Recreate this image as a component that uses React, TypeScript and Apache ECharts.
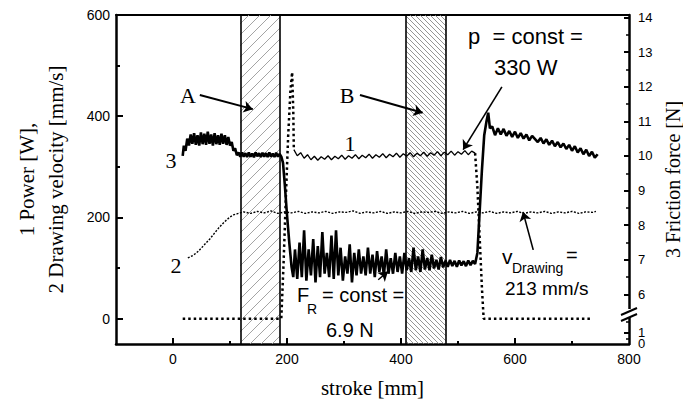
import { useEffect, useRef } from 'react';
import * as echarts from 'echarts';

// ---- axes ----
const X_MIN = -100;
const X_MAX = 800;
const Y_MIN = -50;
const Y_MAX = 600;
const F_MIN = 4.57; // right (friction) axis, upper segment scale
const F_MAX = 14.07;

const xLabels = [0, 200, 400, 600, 800];
const xMajorTicks = [0, 200, 400, 600];
const xMinorTicks = [100, 300, 500, 700];
const yLabels = [0, 200, 400, 600];
const yMinorTicks = [100, 300, 500];
const fLabels = [6, 7, 8, 9, 10, 11, 12, 13, 14];
const fMinorTicks = [6.5, 7.5, 8.5, 9.5, 10.5, 11.5, 12.5, 13.5, 5.2, 4.72];
// lower (broken) segment of the friction axis: axis positions of the "0" and "1" labels
const fZeroPos = 4.58;
const fOnePos = 4.9;

// ---- hatched zones ----
const zoneA = [118, 188];
const zoneB = [409, 479];

// ---- curve 2: drawing velocity [mm/s] ----
const velocity = [
  [26, 120], [30, 122], [35, 125], [40, 129], [45, 134], [50, 140], [55, 146], [60, 152], [65, 158],
  [70, 165], [75, 172], [80, 179], [85, 185], [90, 191], [95, 196], [100, 201], [106, 205], [112, 207],
  [118, 209], [124, 211], [136, 208], [148, 212], [160, 209], [172, 213], [184, 208], [196, 211],
  [208, 209], [220, 212], [232, 208], [244, 211], [256, 209], [268, 212], [280, 208], [292, 211],
  [304, 210], [316, 213], [328, 208], [340, 211], [352, 209], [364, 212], [376, 208], [388, 211],
  [400, 209], [412, 212], [424, 208], [436, 211], [448, 210], [460, 212], [472, 208], [484, 211],
  [496, 209], [508, 212], [520, 208], [532, 211], [544, 209], [556, 212], [568, 208], [580, 211],
  [592, 209], [604, 212], [616, 208], [628, 211], [640, 209], [652, 212], [664, 208], [676, 211],
  [688, 209], [700, 212], [712, 208], [724, 211], [736, 210], [742, 212],
];

// ---- curve 1: power [W] ----
const powerOffStart = [
  [17, 0], [190, 0], [194, 110], [198, 240], [202, 360], [206, 450], [209, 487], [211, 410], [212, 334],
];
const powerOn = [
  [212, 334], [218, 322], [224, 328], [230, 317], [236, 324], [242, 314], [248, 321], [254, 313],
  [260, 320], [266, 315], [272, 322], [278, 314], [284, 321], [290, 316], [296, 323], [302, 315],
  [308, 322], [314, 317], [320, 324], [326, 316], [332, 323], [338, 318], [344, 325], [350, 317],
  [356, 324], [362, 319], [368, 326], [374, 318], [380, 325], [386, 320], [392, 327], [398, 319],
  [404, 326], [410, 321], [416, 328], [422, 320], [428, 327], [434, 322], [440, 329], [446, 321],
  [452, 328], [458, 323], [464, 330], [470, 322], [476, 329], [482, 324], [488, 331], [494, 323],
  [500, 330], [506, 325], [512, 332], [518, 324], [524, 331], [530, 327],
];
const powerOffEnd = [
  [530, 327], [534, 260], [538, 160], [542, 60], [545, 0], [735, 0],
];

// ---- curve 3: friction force [N] ----
const friction = [
  [17, 10.0], [19, 10.3], [22, 10.15], [25, 10.5], [28, 10.3], [31, 10.62], [34, 10.35], [37, 10.66],
  [40, 10.32], [43, 10.6], [46, 10.3], [49, 10.68], [52, 10.34], [55, 10.64], [58, 10.32], [61, 10.7],
  [64, 10.35], [67, 10.62], [70, 10.3], [73, 10.66], [76, 10.34], [79, 10.6], [82, 10.32], [85, 10.64],
  [88, 10.35], [91, 10.6], [94, 10.32], [97, 10.55], [100, 10.3], [103, 10.4], [106, 10.15],
  [109, 10.22], [112, 10.02], [115, 10.1], [118, 9.98], [121, 10.1], [124, 9.98], [127, 10.08],
  [130, 9.97], [133, 10.1], [136, 9.98], [139, 10.07], [142, 9.96], [145, 10.1], [148, 9.99],
  [151, 10.08], [154, 9.97], [157, 10.09], [160, 9.98], [163, 10.08], [166, 9.97], [169, 10.1],
  [172, 9.98], [175, 10.07], [178, 9.97], [181, 10.09], [184, 9.98], [187, 10.06], [190, 9.98],
  [193, 9.8], [196, 9.2], [200, 8.3], [204, 7.5], [208, 6.8], [211, 6.5],
  [214, 7.3], [218, 6.45], [222, 7.5], [226, 6.5], [230, 7.85], [234, 6.4], [238, 7.3], [242, 6.55],
  [246, 7.6], [250, 6.35], [254, 7.4], [258, 6.5], [262, 7.8], [266, 6.6], [270, 7.2], [274, 6.5],
  [278, 7.7], [282, 6.45], [286, 7.85], [290, 6.55], [294, 7.35], [298, 6.4], [302, 7.1], [306, 6.6],
  [310, 7.45], [314, 6.35], [318, 7.2], [322, 6.55], [326, 7.3], [330, 6.6], [334, 7.1], [338, 6.55],
  [342, 7.35], [346, 6.6], [350, 7.15], [354, 6.5], [358, 7.25], [362, 6.65], [366, 7.1], [370, 6.55],
  [374, 7.3], [378, 6.6], [382, 7.05], [386, 6.6], [390, 7.2], [394, 6.65], [398, 7.1], [402, 6.6],
  [406, 7.2], [410, 6.7], [414, 7.05], [418, 6.65], [422, 7.35], [426, 6.7], [430, 7.1], [434, 6.65],
  [438, 7.3], [442, 6.72], [446, 7.05], [450, 6.7], [454, 7.15], [458, 6.75], [462, 7.0], [466, 6.72],
  [470, 7.08], [474, 6.78], [478, 6.98], [482, 6.8], [486, 7.0], [490, 6.82], [494, 6.97], [498, 6.8],
  [502, 6.98], [506, 6.84], [510, 6.96], [514, 6.82], [518, 6.98], [522, 6.85], [526, 6.97], [530, 6.88],
  [534, 7.2], [538, 8.4], [542, 9.6], [546, 10.6], [550, 11.0], [553, 11.25], [556, 10.8],
  [560, 10.85], [565, 10.6], [570, 10.8], [575, 10.62], [580, 10.78], [585, 10.58], [590, 10.72],
  [595, 10.55], [600, 10.7], [605, 10.52], [610, 10.66], [615, 10.5], [620, 10.62], [625, 10.45],
  [630, 10.58], [640, 10.4], [645, 10.52], [650, 10.36], [655, 10.48], [660, 10.32], [665, 10.44],
  [670, 10.28], [675, 10.4], [680, 10.25], [685, 10.36], [690, 10.2], [695, 10.32], [700, 10.15],
  [705, 10.28], [710, 10.1], [715, 10.22], [720, 10.05], [725, 10.18], [730, 10.0], [735, 10.12],
  [740, 9.95], [745, 10.05],
];

// ---- annotation arrows (stroke, left-axis value) ----
const arrowA = [[47, 442], [140, 414]];
const arrowB = [[328, 442], [438, 407]];
const arrowP = [[577, 458], [509, 334]];
const arrowV = [[632, 136], [614, 211]];
const arrowF = [[360, 77], [377, 93]];

const SANS = "'Liberation Sans', Arial, sans-serif";
const SERIF = "'Liberation Serif', 'Times New Roman', serif";

function hatch(forward: boolean, size: number, color: string, width: number) {
  const c = document.createElement('canvas');
  c.width = size;
  c.height = size;
  const ctx = c.getContext('2d')!;
  ctx.strokeStyle = color;
  ctx.lineWidth = width;
  ctx.beginPath();
  if (forward) {
    ctx.moveTo(0, size); ctx.lineTo(size, 0);
    ctx.moveTo(-1, 1); ctx.lineTo(1, -1);
    ctx.moveTo(size - 1, size + 1); ctx.lineTo(size + 1, size - 1);
  } else {
    ctx.moveTo(0, 0); ctx.lineTo(size, size);
    ctx.moveTo(-1, size - 1); ctx.lineTo(1, size + 1);
    ctx.moveTo(size - 1, -1); ctx.lineTo(size + 1, 1);
  }
  ctx.stroke();
  return { image: c.toDataURL(), repeat: 'repeat', imageWidth: size, imageHeight: size };
}

function arrow(pts: number[][], width: number) {
  return [
    { coord: pts[0], lineStyle: { width, color: '#000', type: 'solid' } },
    { coord: pts[1] },
  ];
}

function txt(x: number, y: number, text: string, font: string, align = 'left') {
  return { type: 'text', x, y, style: { text, font, fill: '#000', textAlign: align, textVerticalAlign: 'middle' } };
}

export default function App() {
  const ref = useRef<HTMLDivElement>(null);
  useEffect(() => {
    const chart = echarts.init(ref.current!, null, { renderer: 'svg' });
    const axisLine = { show: true, onZero: false, lineStyle: { color: '#000', width: 2.5 } };
    const noLine = { show: false, onZero: false };
    const labelBase = { color: '#000', fontFamily: 'Liberation Sans', fontSize: 14 };
    const nameBase = { fontFamily: 'Liberation Serif', fontSize: 21, color: '#000' };

    const option: any = {
      animation: false,
      backgroundColor: '#fff',
      grid: { left: 116, right: 54, top: 15, bottom: 63, outerBoundsMode: 'none', containLabel: false },
      xAxis: [
        {
          type: 'value', position: 'bottom', min: X_MIN, max: X_MAX,
          axisLine,
          splitLine: { show: false },
          axisTick: { show: true, inside: true, length: 6, customValues: xMajorTicks, lineStyle: { color: '#000', width: 2 } },
          axisLabel: { ...labelBase, margin: 8, customValues: xLabels },
          name: 'stroke [mm]', nameLocation: 'middle', nameGap: 33,
          nameTextStyle: { ...nameBase },
        },
        {
          type: 'value', position: 'bottom', min: X_MIN, max: X_MAX,
          axisLine: noLine, splitLine: { show: false },
          axisTick: { show: true, inside: true, length: 3, customValues: xMinorTicks, lineStyle: { color: '#000', width: 2 } },
          axisLabel: { show: false },
        },
        {
          type: 'value', position: 'top', min: X_MIN, max: X_MAX,
          axisLine: { show: true, onZero: false, lineStyle: { color: '#000', width: 2 } },
          splitLine: { show: false }, axisTick: { show: false }, axisLabel: { show: false },
        },
      ],
      yAxis: [
        {
          type: 'value', position: 'left', min: Y_MIN, max: Y_MAX,
          axisLine, splitLine: { show: false },
          axisTick: { show: true, inside: true, length: 7, customValues: yLabels, lineStyle: { color: '#000', width: 2 } },
          axisLabel: { ...labelBase, margin: 6, customValues: yLabels },
          name: '1 Power [W],\n2 Drawing velocity [mm/s]', nameLocation: 'middle', nameRotate: 90, nameGap: 46,
          nameTextStyle: { ...nameBase, lineHeight: 29, align: 'center' },
        },
        {
          type: 'value', position: 'left', min: Y_MIN, max: Y_MAX,
          axisLine: noLine, splitLine: { show: false },
          axisTick: { show: true, inside: true, length: 4, customValues: yMinorTicks, lineStyle: { color: '#000', width: 2 } },
          axisLabel: { show: false },
        },
        {
          type: 'value', position: 'right', min: F_MIN, max: F_MAX,
          axisLine, splitLine: { show: false },
          axisTick: { show: true, inside: true, length: 5, customValues: [fOnePos, ...fLabels], lineStyle: { color: '#000', width: 2 } },
          axisLabel: {
            ...labelBase, fontSize: 13, lineHeight: 11, margin: 9, customValues: [fZeroPos, ...fLabels],
            showMinLabel: true, hideOverlap: false,
            formatter: (v: number) => (v < 5 ? '0' : String(Math.round(v))),
          },
          name: '3 Friction force [N]', nameLocation: 'middle', nameRotate: 90, nameGap: 24,
          nameTextStyle: { ...nameBase, fontSize: 20, lineHeight: 20 },
        },
        {
          type: 'value', position: 'right', min: F_MIN, max: F_MAX,
          axisLine: noLine, splitLine: { show: false },
          axisTick: { show: true, inside: true, length: 3, customValues: fMinorTicks, lineStyle: { color: '#000', width: 1.5 } },
          axisLabel: {
            ...labelBase, fontSize: 13, lineHeight: 11, margin: 9, customValues: [fOnePos],
            showMinLabel: true, hideOverlap: false,
            formatter: () => '1',
          },
        },
      ],
      series: [
        {
          name: 'Drawing velocity', type: 'line', xAxisIndex: 0, yAxisIndex: 0, data: velocity,
          showSymbol: false, symbol: 'none',
          lineStyle: { color: '#000', width: 1.4, type: [2, 1.5] },
          markArea: {
            silent: true,
            data: [
              [{ xAxis: zoneA[0], itemStyle: { color: hatch(true, 11, '#9a9a9a', 0.9) } }, { xAxis: zoneA[1] }],
              [{ xAxis: zoneB[0], itemStyle: { color: hatch(false, 5, '#7a7a7a', 0.8) } }, { xAxis: zoneB[1] }],
            ],
          },
          markLine: {
            silent: true, symbol: 'none', label: { show: false },
            lineStyle: { color: '#000', width: 1.6, type: 'solid' },
            data: [{ xAxis: zoneA[0] }, { xAxis: zoneA[1] }, { xAxis: zoneB[0] }, { xAxis: zoneB[1] }],
          },
        },
        {
          name: 'Power', type: 'line', xAxisIndex: 0, yAxisIndex: 0, data: powerOffStart,
          showSymbol: false, symbol: 'none',
          lineStyle: { color: '#000', width: 2.5, type: [2.5, 3] },
        },
        {
          name: 'Power', type: 'line', xAxisIndex: 0, yAxisIndex: 0, data: powerOn,
          showSymbol: false, symbol: 'none',
          lineStyle: { color: '#000', width: 1.3 },
          markLine: {
            silent: true, symbol: ['none', 'arrow'], symbolSize: 9, label: { show: false },
            data: [arrow(arrowA, 2), arrow(arrowB, 2), arrow(arrowP, 1.6), arrow(arrowV, 1.6), arrow(arrowF, 1.4)],
          },
        },
        {
          name: 'Power', type: 'line', xAxisIndex: 0, yAxisIndex: 0, data: powerOffEnd,
          showSymbol: false, symbol: 'none',
          lineStyle: { color: '#000', width: 2.5, type: [2.5, 3] },
        },
        {
          name: 'Friction force', type: 'line', xAxisIndex: 0, yAxisIndex: 2, data: friction,
          showSymbol: false, symbol: 'none',
          lineStyle: { color: '#000', width: 2.6 },
        },
      ],
      graphic: [
        { type: 'rect', shape: { x: 625, y: 309, width: 8, height: 8 }, style: { fill: '#fff' }, z: 100 },
        { type: 'line', shape: { x1: 621, y1: 315, x2: 637, y2: 308 }, style: { stroke: '#000', lineWidth: 2 }, z: 101 },
        { type: 'line', shape: { x1: 621, y1: 321, x2: 637, y2: 314 }, style: { stroke: '#000', lineWidth: 2 }, z: 101 },
        txt(188, 95, 'A', `22px ${SERIF}`, 'center'),
        txt(347, 95, 'B', `22px ${SERIF}`, 'center'),
        txt(350, 143, '1', `22px ${SERIF}`, 'center'),
        txt(171, 160, '3', `22px ${SERIF}`, 'center'),
        txt(176, 265, '2', `22px ${SERIF}`, 'center'),
        txt(468, 36, 'p  = const =', `22px ${SANS}`),
        txt(494, 67, '330 W', `22px ${SANS}`),
        txt(297, 295, 'F', `20px ${SANS}`),
        txt(307, 309, 'R', `14px ${SANS}`),
        txt(322, 295, '= const =', `20px ${SANS}`),
        txt(326, 330, '6.9 N', `20px ${SANS}`),
        txt(502, 256, 'v', `21px ${SANS}`),
        txt(512, 268, 'Drawing', `14px ${SANS}`),
        txt(566, 255, '=', `20px ${SANS}`),
        txt(505, 288, '213 mm/s', `19px ${SANS}`),
      ],
    };
    chart.setOption(option);
    return () => chart.dispose();
  }, []);
  return <div ref={ref} style={{ position: 'fixed', left: 0, top: 0, width: 683, height: 407, background: '#fff' }} />;
}
